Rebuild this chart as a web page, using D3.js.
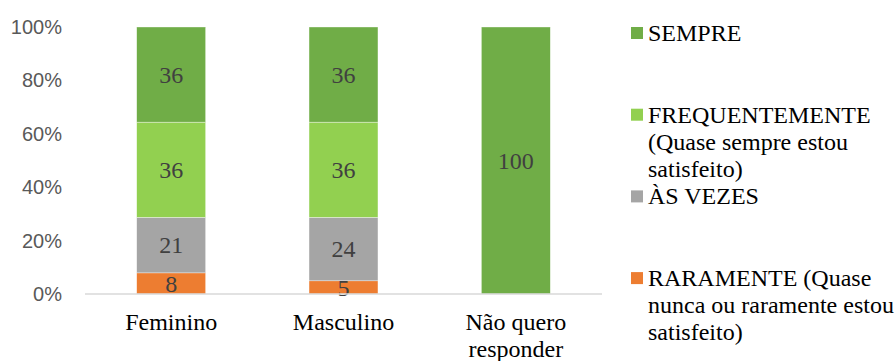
<!DOCTYPE html>
<html>
<head>
<meta charset="utf-8">
<script src="https://cdn.jsdelivr.net/npm/d3@7"></script>
</head>
<body style="margin:0;background:#fff">
<svg width="895" height="361" style="display:block"></svg>
<script>
// Response categories
const categories = ["Feminino", "Masculino", "Não quero responder"];
// Series keys, bottom to top in each stack
const seriesKeys = ["RARAMENTE", "AS_VEZES", "FREQUENTEMENTE", "SEMPRE"];
const seriesLabels = [
  ["RARAMENTE (Quase", "nunca ou raramente estou", "satisfeito)"],
  ["ÀS VEZES"],
  ["FREQUENTEMENTE", "(Quase sempre estou", "satisfeito)"],
  ["SEMPRE"]
];
const seriesColors = ["#ED7D31", "#A5A5A5", "#92D050", "#70AD47"];
// Values per series, one per category
const raramente = [8, 5, 0];
const asVezes = [21, 24, 0];
const frequentemente = [36, 36, 0];
const sempre = [36, 36, 100];
const yTicks = [0, 0.2, 0.4, 0.6, 0.8, 1];

const SERIF = "Liberation Serif";
const SANS = "Liberation Sans";

const rows = categories.map((c, i) => ({
  cat: c,
  RARAMENTE: raramente[i],
  AS_VEZES: asVezes[i],
  FREQUENTEMENTE: frequentemente[i],
  SEMPRE: sempre[i]
}));

const svg = d3.select("svg");
const m = { left: 85, right: 602, top: 27, bottom: 294 };

const x = d3.scaleBand().domain(categories).range([m.left, m.right])
  .paddingInner(0.6).paddingOuter(0.3);
const y = d3.scaleLinear().domain([0, 1]).range([m.bottom, m.top]);

const stacked = d3.stack().keys(seriesKeys).offset(d3.stackOffsetExpand)(rows);

// Y axis labels
const yAxis = d3.axisLeft(y).tickValues(yTicks).tickSize(0).tickPadding(23)
  .tickFormat(d3.format(".0%"));
const gy = svg.append("g").attr("transform", `translate(${m.left},0)`).call(yAxis);
gy.select(".domain").remove();
gy.selectAll("text")
  .attr("font-family", SANS).attr("font-size", 20)
  .attr("fill", "#595959");

// Bars
const layers = svg.append("g").selectAll("g").data(stacked).join("g")
  .attr("fill", (d, i) => seriesColors[i]);
layers.selectAll("rect").data(d => d.filter(p => p.data[d.key] > 0)).join("rect")
  .attr("x", d => x(d.data.cat))
  .attr("width", x.bandwidth())
  .attr("y", d => y(d[1]))
  .attr("height", d => y(d[0]) - y(d[1]))
  .attr("stroke", "#fff")
  .attr("stroke-opacity", 0.6)
  .attr("stroke-width", 0.6);

// Value labels
stacked.forEach(layer => {
  svg.append("g").selectAll("text").data(layer.filter(p => p.data[layer.key] > 0)).join("text")
    .attr("x", d => x(d.data.cat) + x.bandwidth() / 2)
    .attr("y", d => (y(d[0]) + y(d[1])) / 2)
    .attr("dy", "0.35em")
    .attr("text-anchor", "middle")
    .attr("font-family", SERIF).attr("font-size", 24)
    .attr("fill", "#404040")
    .text(d => d.data[layer.key]);
});

// Baseline
svg.append("line")
  .attr("x1", m.left).attr("x2", m.right)
  .attr("y1", y(0)).attr("y2", y(0))
  .attr("stroke", "#D9D9D9").attr("stroke-width", 1.5);

// Category labels, wrapped onto two lines when long
const catLabels = svg.append("g");
categories.forEach(c => {
  const words = c.split(" ");
  const lines = [];
  let cur = [];
  words.forEach(w => {
    const test = cur.concat(w).join(" ");
    if (test.length > 10 && cur.length) { lines.push(cur.join(" ")); cur = [w]; }
    else cur.push(w);
  });
  lines.push(cur.join(" "));
  const t = catLabels.append("text")
    .attr("font-family", SERIF).attr("font-size", 24)
    .attr("text-anchor", "middle").attr("fill", "#000");
  lines.forEach((ln, i) => {
    t.append("tspan")
      .attr("x", x(c) + x.bandwidth() / 2)
      .attr("y", m.bottom + 36 + i * 27)
      .text(ln);
  });
});

// Legend, top entry first
const legend = svg.append("g").attr("transform", "translate(631,27)");
d3.range(seriesKeys.length).reverse().forEach((si, row) => {
  const g = legend.append("g").attr("transform", `translate(0,${row * 81.7})`);
  g.append("rect").attr("width", 12).attr("height", 12).attr("fill", seriesColors[si]);
  const t = g.append("text")
    .attr("font-family", SERIF).attr("font-size", 24)
    .attr("fill", "#000");
  seriesLabels[si].forEach((ln, i) => {
    t.append("tspan").attr("x", 17).attr("y", 14 + i * 27).text(ln);
  });
});
</script>
</body>
</html>
